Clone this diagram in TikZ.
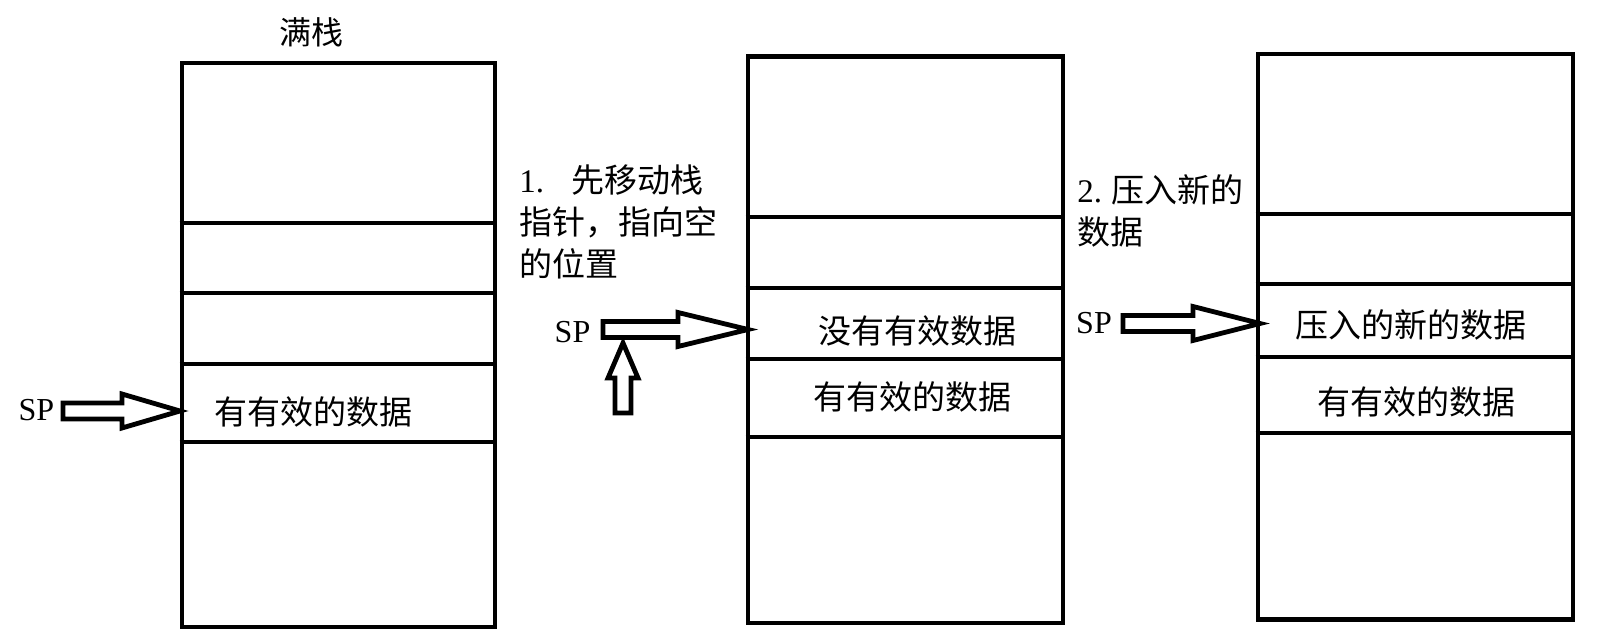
\documentclass[tikz,border=0pt]{standalone}
\usepackage{fontspec}
\setmainfont{Liberation Serif}
\newfontfamily\cjk{Noto Sans CJK SC}
\newcommand\harr[4]{% #1 shaft start x, #2 head base x, #3 tip x, #4 y
  \draw[blk] (#1,#4-8) -- (#2,#4-8) -- (#2,#4-17) -- (#3,#4) -- (#2,#4+17) -- (#2,#4+8) -- (#1,#4+8) -- cycle;}
\begin{document}
\begin{tikzpicture}[x=0.5pt, y=-0.5pt,
  stackbox/.style={draw, line width=2.4pt, inner sep=0pt},
  divider/.style={line width=2.4pt},
  blk/.style={draw, line width=2.4pt, line join=miter, fill=white},
  cell/.style={font=\cjk\fontsize{16.5}{18}\selectfont, inner sep=0pt},
  lbl/.style={font=\cjk\fontsize{16.5}{21}\selectfont, align=left, inner sep=0pt, anchor=west},
  sp/.style={font=\fontsize{16}{18}\selectfont, inner sep=0pt}]
\useasboundingbox (0,0) rectangle (1611,641);

% stacks
\node[stackbox, minimum width=156.5pt, minimum height=282pt] (s1) at (338.5,345) {};
\node[stackbox, minimum width=157.5pt, minimum height=283.25pt] (s2) at (905.5,339.75) {};
\node[stackbox, minimum width=157.5pt, minimum height=282.75pt] (s3) at (1415.5,336.75) {};

\foreach \y in {223,293,364,442}
  \draw[divider] (s1.west |- 0,\y) -- (s1.east |- 0,\y);
\foreach \y in {217,288,359,437}
  \draw[divider] (s2.west |- 0,\y) -- (s2.east |- 0,\y);
\foreach \y in {214,284,357,433}
  \draw[divider] (s3.west |- 0,\y) -- (s3.east |- 0,\y);

% texts
\node[cell, font=\cjk\fontsize{16}{18}\selectfont] (title) at (311,32) {满栈};
\node[cell] (c1) at (313,412) {有有效的数据};
\node[cell] (c2a) at (917,331) {没有有效数据};
\node[cell] (c2b) at (912,397) {有有效的数据};
\node[cell] (c3a) at (1411,325) {压入的新的数据};
\node[cell] (c3b) at (1416,402) {有有效的数据};

\node[lbl] (l1) at (519,221.5) {\makebox[26pt][l]{\rmfamily 1.}先移动栈\\指针，指向空\\的位置};
\node[lbl] (l2) at (1077,210.5) {\makebox[17pt][l]{\rmfamily 2.}压入新的\\数据};

% SP pointers
\node[sp] (sp1) at (36.5,410) {SP};
\node[sp] (sp2) at (572.5,332) {SP};
\node[sp] (sp3) at (1094,323) {SP};

\harr{63}{122}{180}{411}
\harr{603}{678}{748}{329.5}
\harr{1123}{1193}{1260}{323.5}

% upward arrow
\draw[blk] (615,413) -- (615,378) -- (608,378) -- (623,343) -- (638,378) -- (631,378) -- (631,413) -- cycle;
\end{tikzpicture}
\end{document}
